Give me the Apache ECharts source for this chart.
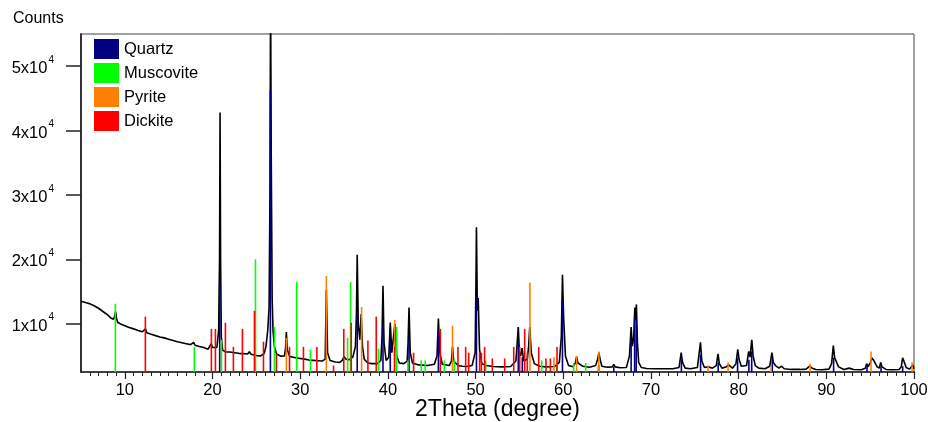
<!DOCTYPE html>
<html>
<head>
<meta charset="utf-8">
<script src="https://cdn.jsdelivr.net/npm/echarts@6/dist/echarts.min.js"></script>
<style>html,body{margin:0;padding:0;background:#fff;}#c{width:928px;height:422px;}</style>
</head>
<body>
<div id="c"></div>
<script>
// ---- data ----
const xTicks = [10, 20, 30, 40, 50, 60, 70, 80, 90, 100];
const xMinorTicks = [6,7,8,9,11,12,13,14,15,16,17,18,19,21,22,23,24,25,26,27,28,29,31,32,33,34,35,36,37,38,39,41,42,43,44,45,46,47,48,49,51,52,53,54,55,56,57,58,59,61,62,63,64,65,66,67,68,69,71,72,73,74,75,76,77,78,79,81,82,83,84,85,86,87,88,89,91,92,93,94,95,96,97,98,99];
const yTicks = [10000, 20000, 30000, 40000, 50000];

const pattern = [
[5,13500],[5.5,13300],[6,13100],[6.5,12800],[7,12400],[7.5,11900],[8,11400],[8.4,10900],[8.7,10700],[8.85,11200],[8.95,11900],[9.05,10800],[9.2,10200],[9.6,9900],[10,9700],[10.5,9400],[11,9200],[11.5,8950],[12,8750],[12.2,8750],[12.35,9200],[12.5,8600],[13,8350],[13.5,8150],[14,7950],[14.5,7800],[15,7600],[15.5,7400],[16,7200],[16.5,7050],[17,6900],[17.5,6750],[17.7,6800],[17.85,7100],[18.0,6650],[18.5,6450],[19,6300],[19.5,6050],[19.7,6100],[19.85,6900],[20.0,6300],[20.2,6100],[20.5,6300],[20.7,9000],[20.8,20000],[20.86,42800],[20.92,20000],[21.0,8000],[21.15,5900],[21.5,5600],[22,5600],[22.5,5500],[23,5400],[23.5,5350],[24,5300],[24.2,5650],[24.4,5250],[25,5050],[25.5,5000],[25.9,5400],[26.1,6500],[26.3,9000],[26.45,12500],[26.55,30000],[26.62,62000],[26.7,35000],[26.8,14000],[26.9,9000],[27.05,6500],[27.3,5300],[27.8,4950],[28.2,5000],[28.32,6000],[28.42,8700],[28.52,6000],[28.8,4900],[29.5,4700],[30,4600],[30.5,4500],[31,4350],[31.5,4300],[32,4250],[32.5,4200],[32.85,4500],[32.98,15300],[33.12,5500],[33.4,4300],[34,4050],[34.5,4000],[34.8,4300],[35.0,4900],[35.2,4500],[35.6,4400],[36.0,4800],[36.3,6500],[36.42,12000],[36.5,20700],[36.62,10000],[36.8,7500],[36.95,11500],[37.1,6500],[37.3,4500],[37.7,3900],[38.2,3800],[38.8,3800],[39.2,4300],[39.33,8000],[39.44,15900],[39.56,7000],[39.8,4300],[40.1,4800],[40.27,10200],[40.45,5500],[40.62,5500],[40.8,10000],[41.0,5000],[41.3,3900],[41.8,3800],[42.2,4200],[42.3,7000],[42.41,12500],[42.55,5500],[42.8,3900],[43.5,3600],[44.5,3500],[45.3,3700],[45.6,5000],[45.76,10800],[45.92,5500],[46.2,3700],[47,3500],[47.25,4200],[47.37,6400],[47.5,4200],[48,3500],[48.5,3400],[49,3350],[49.6,3500],[49.95,5500],[50.04,16000],[50.1,25000],[50.2,12000],[50.3,14000],[50.45,6000],[50.7,3800],[51.2,3500],[52,3350],[53,3300],[54,3350],[54.6,4200],[54.87,9500],[55.0,5500],[55.15,5000],[55.3,6200],[55.5,4200],[55.9,4500],[56.05,6500],[56.18,9500],[56.35,5500],[56.7,3800],[57.3,3400],[58,3300],[59,3350],[59.55,4000],[59.78,8000],[59.91,17600],[60.04,11000],[60.25,5000],[60.6,3500],[61.1,3300],[61.38,3900],[61.52,4900],[61.67,3900],[62.2,3400],[63,3250],[63.7,3500],[63.92,4500],[64.06,5500],[64.2,4500],[64.4,3400],[65,3250],[65.6,3300],[65.76,3700],[65.92,3300],[66.5,3150],[67.2,3200],[67.55,5000],[67.74,9500],[67.88,6500],[68.04,8000],[68.16,12500],[68.24,10500],[68.34,13000],[68.46,7000],[68.6,4000],[68.9,3200],[69.5,3050],[70.5,3000],[71.5,3000],[72.5,3000],[73.2,3200],[73.45,5500],[73.6,4000],[73.9,3100],[74.5,3000],[75.3,3200],[75.55,6000],[75.65,7100],[75.8,4200],[76.1,3200],[76.5,3300],[77,3100],[77.45,3500],[77.65,5300],[77.8,3800],[78.1,3100],[78.6,3300],[78.85,3600],[79.3,3100],[79.7,3800],[79.9,6000],[80.05,4500],[80.3,3400],[80.9,3500],[81.15,5700],[81.3,4800],[81.5,7500],[81.65,5000],[81.9,3500],[82.3,3100],[83,3000],[83.55,3400],[83.8,5500],[83.95,4000],[84.2,3500],[84.6,3100],[84.9,3400],[85.2,3000],[86,2900],[87,2900],[87.7,2950],[88.1,3400],[88.4,3100],[88.8,2900],[89.5,2850],[90.3,2950],[90.6,3800],[90.8,6600],[90.95,4700],[91.1,4500],[91.4,3300],[92,2900],[92.6,3100],[92.8,3400],[93.1,2900],[94,2850],[94.45,3100],[94.6,3800],[94.75,3300],[95.05,4000],[95.2,4700],[95.45,4200],[95.8,3300],[96.05,3100],[96.2,4000],[96.35,3300],[96.8,2900],[97.5,2850],[98.3,2900],[98.55,3300],[98.7,4700],[98.85,4200],[99.1,3200],[99.5,2950],[99.85,3600],[100,3000]
];

const quartz = [[20.82,16500],[26.6,46300],[36.5,11500],[39.44,10000],[40.27,7500],[42.41,7800],[45.76,8800],[50.1,14200],[54.87,7000],[55.33,4800],[59.91,13700],[64.03,3600],[65.76,3300],[67.74,7500],[68.14,11100],[68.32,10500],[73.47,4400],[75.66,5200],[77.67,4000],[79.88,4700],[81.17,4400],[81.49,5700],[83.84,4400],[90.83,4700],[94.64,3600],[96.24,3400],[98.71,3400]];
const muscovite = [[8.92,13100],[17.93,6400],[21.02,7500],[24.9,20000],[27.06,9500],[29.6,16500],[31.17,6000],[35.4,7800],[35.74,16500],[38.93,6100],[41.0,9500],[42.28,4300],[43.8,4300],[44.26,4300],[46.43,4300],[47.57,4400],[51.15,4300],[57.54,4300],[59.25,3900],[61.19,3900],[62.56,3900]];
const pyrite = [[28.42,7800],[32.98,17400],[37.0,12600],[40.77,10600],[47.37,9700],[56.2,16400],[58.94,4800],[61.52,5000],[64.06,5700],[76.52,3500],[78.8,4000],[83.7,3200],[88.15,3800],[95.1,5700],[99.78,4000]];
const dickite = [[12.34,11100],[19.87,9200],[20.33,9200],[21.47,10150],[22.38,6400],[23.41,9200],[24.78,12000],[25.81,7200],[27.29,5300],[28.78,6400],[30.37,6400],[31.9,6400],[33.8,3500],[34.97,9200],[35.82,10150],[37.72,7400],[38.67,11100],[40.76,6400],[42.93,5500],[45.98,9200],[47.99,6400],[48.87,6400],[49.21,5500],[50.46,5500],[50.66,5500],[51.03,6400],[51.91,4600],[53.32,4600],[54.35,6400],[55.03,6400],[55.6,9200],[55.9,5500],[57.2,6400],[58.03,4600],[58.53,4600],[59.29,6400]];

const phaseNames = ['Quartz', 'Muscovite', 'Pyrite', 'Dickite'];
const phaseData = [quartz, muscovite, pyrite, dickite];
const phaseColors = ['#000080', '#00ff00', '#ff8000', '#ff0000'];

const FONT = '"Liberation Sans", Arial, sans-serif';
const Y_MIN = 2500, Y_MAX = 55000;

const chart = echarts.init(document.getElementById('c'));

function stickSeries(name, data, color) {
  return {
    name: name,
    type: 'custom',
    data: data,
    itemStyle: { color: color },
    clip: true,
    z: 5,
    encode: { x: 0, y: 1 },
    renderItem: function (params, api) {
      const x = api.value(0), h = api.value(1);
      const p0 = api.coord([x, Y_MIN]);
      const p1 = api.coord([x, h]);
      return {
        type: 'line',
        shape: { x1: p0[0], y1: p0[1], x2: p1[0], y2: p1[1] },
        style: { stroke: color, lineWidth: 1.6 }
      };
    }
  };
}

const series = [{
  name: 'pattern',
  type: 'line',
  data: pattern,
  showSymbol: false,
  symbol: 'none',
  clip: true,
  z: 3,
  lineStyle: { color: '#000', width: 1.6 },
  animation: false
}];
for (let i = 0; i < phaseNames.length; i++) {
  series.push(stickSeries(phaseNames[i], phaseData[i], phaseColors[i]));
}

chart.setOption({
  animation: false,
  backgroundColor: '#fff',
  title: {
    text: 'Counts', left: 8, top: 6,
    textStyle: { fontFamily: FONT, fontSize: 16, fontWeight: 'normal', color: '#000' }
  },
  legend: {
    data: phaseNames,
    orient: 'vertical',
    left: 89, top: 34,
    icon: 'rect',
    itemWidth: 25, itemHeight: 20, itemGap: 4,
    textStyle: { fontFamily: FONT, fontSize: 16.5, color: '#000', padding: [0, 0, 0, 0] },
    selectedMode: false
  },
  grid: {
    left: 81, right: 14, top: 34, bottom: 50,
    outerBoundsMode: 'none', containLabel: false,
    show: true, borderColor: '#444', borderWidth: 1, backgroundColor: 'transparent'
  },
  xAxis: [{
    type: 'value', min: 5, max: 100,
    axisLine: { show: true, onZero: false, lineStyle: { color: '#222', width: 1.5 } },
    axisTick: { show: true, length: 7, customValues: xTicks, lineStyle: { color: '#222', width: 1.2 } },
    axisLabel: { customValues: xTicks, margin: 10, fontFamily: FONT, fontSize: 16.5, color: '#000' },
    splitLine: { show: false },
    name: '2Theta (degree)', nameLocation: 'middle', nameGap: 26, nameMoveOverlap: false,
    nameTextStyle: { fontFamily: FONT, fontSize: 23, color: '#000' }
  }, {
    type: 'value', min: 5, max: 100, position: 'bottom',
    axisLine: { show: false },
    axisTick: { show: true, length: 4, customValues: xMinorTicks, lineStyle: { color: '#222', width: 1 } },
    axisLabel: { show: false },
    splitLine: { show: false }
  }],
  yAxis: {
    type: 'value', min: Y_MIN, max: Y_MAX,
    axisLine: { show: true, onZero: false, lineStyle: { color: '#333', width: 2 } },
    axisTick: { show: true, length: 15, customValues: yTicks, lineStyle: { color: '#222', width: 1.5 } },
    axisLabel: {
      customValues: yTicks, margin: 27,
      formatter: function (v) { return '{m|' + (v / 10000) + 'x10}{s|4}'; },
      rich: {
        m: { fontFamily: FONT, fontSize: 16.5, color: '#000', verticalAlign: 'bottom', lineHeight: 22 },
        s: { fontFamily: FONT, fontSize: 10, color: '#000', verticalAlign: 'top', lineHeight: 22, padding: [0, 0, 0, 1] }
      }
    },
    splitLine: { show: false }
  },
  series: series
});
</script>
</body>
</html>
